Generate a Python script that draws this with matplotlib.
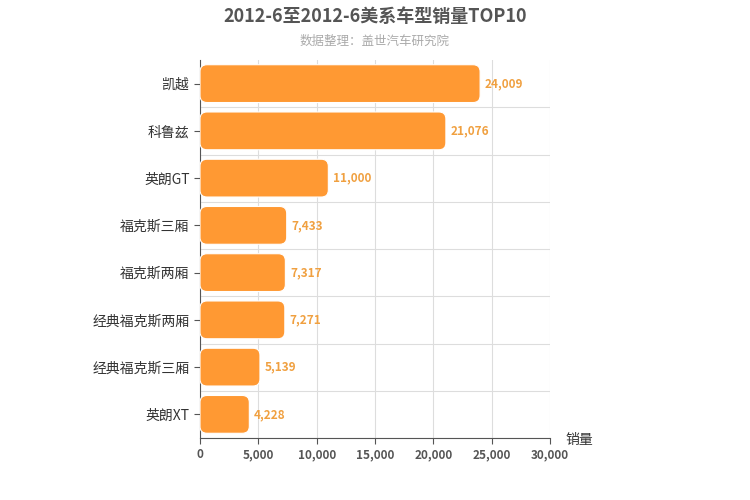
import matplotlib
matplotlib.use("Agg")
import matplotlib.pyplot as plt
from matplotlib.patches import FancyBboxPatch

plt.rcParams["font.family"] = "Noto Sans CJK SC"

categories = ["凯越", "科鲁兹", "英朗GT", "福克斯三厢", "福克斯两厢", "经典福克斯两厢", "经典福克斯三厢", "英朗XT"]
values = [24009, 21076, 11000, 7433, 7317, 7271, 5139, 4228]
xticks = [0, 5000, 10000, 15000, 20000, 25000, 30000]

fig = plt.figure(figsize=(7.5, 5), dpi=100)
ax = fig.add_axes([200/750, 62/500, 350/750, 378/500])
n = len(categories)
ax.set_xlim(0, 30000)
ax.set_ylim(n - 0.5, -0.5)

color = "#FF9933"
h = 0.8
rx = 7 * 30000 / 350
ry = 7 * n / 378
for i, v in enumerate(values):
    p = FancyBboxPatch((0, i - h/2), v, h,
                       boxstyle=f"round,pad=0,rounding_size={rx}",
                       mutation_aspect=ry/rx, fc=color, ec="white", lw=0.8, zorder=3)
    ax.add_patch(p)
    ax.text(v + 400, i, f"{v:,}", va="center", ha="left", color="#F0A040",
            fontsize=8.5, fontweight="bold", zorder=4)

ax.set_yticks(range(n))
ax.set_yticklabels(categories, fontsize=10, color="#333333")
ax.set_xticks(xticks)
ax.set_xticklabels([f"{t:,}" for t in xticks], fontsize=8.5, color="#555555", fontweight="bold")
for t in xticks:
    ax.axvline(t, color="#dddddd", lw=0.8, zorder=0)
for i in range(n):
    ax.axhline(i + 0.5, color="#dddddd", lw=0.8, zorder=0)
for s in ["top", "right"]:
    ax.spines[s].set_visible(False)
ax.spines["left"].set_color("#555555")
ax.spines["bottom"].set_color("#555555")
ax.tick_params(axis="y", length=4, color="#555555")
ax.tick_params(axis="x", length=4, color="#555555")

fig.text(375/750, 1 - 16/500, "2012-6至2012-6美系车型销量TOP10", ha="center", va="center",
         fontsize=13, fontweight="bold", color="#555555")
fig.text(375/750, 1 - 41/500, "数据整理：盖世汽车研究院", ha="center", va="center",
         fontsize=9, color="#aaaaaa")
fig.text(565/750, 1 - 440/500, "销量", ha="left", va="center", fontsize=10, color="#333333")

fig.savefig("out.png", dpi=100)
